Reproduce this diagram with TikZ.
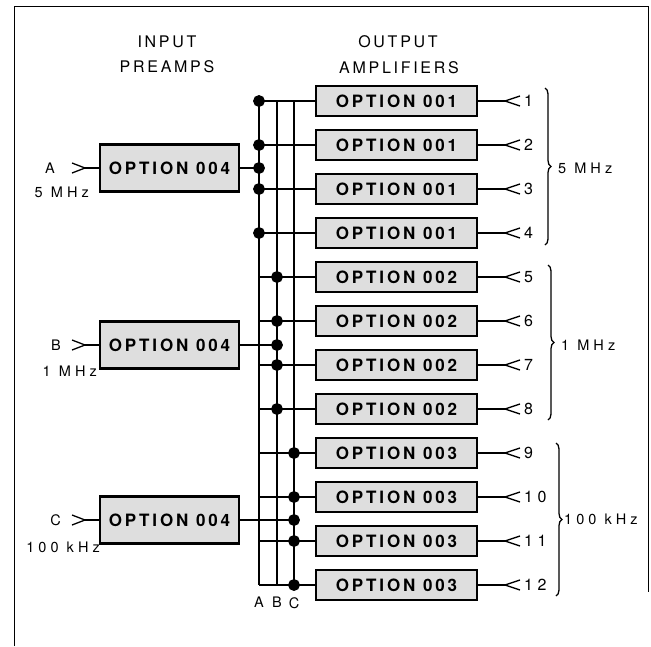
\documentclass[tikz,border=0pt]{standalone}
\usepackage{fontspec}
\setmainfont{TeX Gyre Heros}
\newfontfamily\spaced[LetterSpace=17]{TeX Gyre Heros}
\newfontfamily\widespaced[LetterSpace=28]{TeX Gyre Heros}
\usepackage{tikz}
\usetikzlibrary{positioning, calc, decorations.pathreplacing}
\definecolor{stipple}{HTML}{dedede}

\begin{document}
\begin{tikzpicture}[
    x=1pt, y=-1pt,
    node distance=14pt and 40pt,
    preamp/.style={rectangle, draw=black, fill=stipple, line width=2.2pt, outer sep=0pt, minimum width=139pt, minimum height=47pt, inner sep=0pt, font=\spaced\fontsize{17}{18}\selectfont\bfseries},
    ampbox/.style={rectangle, draw=black, fill=stipple, line width=2.2pt, outer sep=0pt, minimum width=161pt, minimum height=30pt, inner sep=0pt, font=\spaced\fontsize{17}{18}\selectfont\bfseries},
    heading/.style={inner sep=0pt, font=\spaced\fontsize{16}{18}\selectfont},
    tag/.style={inner sep=0pt, font=\widespaced\fontsize{14.5}{16}\selectfont},
    num/.style={inner sep=0pt, font=\widespaced\fontsize{16}{18}\selectfont},
    wire/.style={line width=1.8pt},
    jack/.style={line width=1.3pt},
    band/.style={decorate, decoration={brace, amplitude=6pt}, line width=1.3pt}
]
\useasboundingbox (0,0) rectangle (651,646);

% Frame
\draw[line width=1pt] (14,646) -- (14,6) -- (648,6) -- (648,592);

% Headings
\node[heading] (hin1) at (167,42) {INPUT};
\node[heading] (hin2) at (167,67) {PREAMPS};
\node[heading] (hout1) at (398,42) {OUTPUT};
\node[heading] (hout2) at (399,68) {AMPLIFIERS};

% Input preamps
\node[preamp] (inA) at (169.5,168) {OPTION 004};
\node[preamp, below=130pt of inA] (inB) {OPTION 004};
\node[preamp, below=128pt of inB] (inC) {OPTION 004};

% Output amplifiers
\node[ampbox] (out1) at (396.5,101) {OPTION 001};
\node[ampbox, below=of out1] (out2) {OPTION 001};
\node[ampbox, below=of out2] (out3) {OPTION 001};
\node[ampbox, below=of out3] (out4) {OPTION 001};
\node[ampbox, below=of out4] (out5) {OPTION 002};
\node[ampbox, below=of out5] (out6) {OPTION 002};
\node[ampbox, below=of out6] (out7) {OPTION 002};
\node[ampbox, below=of out7] (out8) {OPTION 002};
\node[ampbox, below=of out8] (out9) {OPTION 003};
\node[ampbox, below=of out9] (out10) {OPTION 003};
\node[ampbox, below=of out10] (out11) {OPTION 003};
\node[ampbox, below=of out11] (out12) {OPTION 003};

% Bus A, B, C
\coordinate (busA) at (259,0);
\coordinate (busB) at (277,0);
\coordinate (busC) at (294,0);
\draw[wire] (out1.west -| busA) -- (out12.west -| busA);
\draw[wire] (out1.west -| busB) -- (out12.west -| busB);
\draw[wire] (out1.west -| busC) -- (out12.west -| busC);
\node[tag, below=12pt of out12.west -| busA] (labbusA) {A};
\node[tag, below=12pt of out12.west -| busB] (labbusB) {B};
\node[tag, below=12pt of out12.west -| busC] (labbusC) {C};

% Inputs onto the bus
\filldraw[wire] (inA.east) -- (inA.east -| busA) circle (5pt);
\filldraw[wire] (inB.east) -- (inB.east -| busB) circle (5pt);
\filldraw[wire] (inC.east) -- (inC.east -| busC) circle (5pt);

% Taps to the amplifiers
\filldraw[wire] (out1.west) -- (out1.west -| busA) circle (5pt);
\filldraw[wire] (out2.west) -- (out2.west -| busA) circle (5pt);
\filldraw[wire] (out3.west) -- (out3.west -| busA) circle (5pt);
\filldraw[wire] (out4.west) -- (out4.west -| busA) circle (5pt);
\filldraw[wire] (out5.west) -- (out5.west -| busA) (out5.west -| busB) circle (5pt);
\filldraw[wire] (out6.west) -- (out6.west -| busA) (out6.west -| busB) circle (5pt);
\filldraw[wire] (out7.west) -- (out7.west -| busA) (out7.west -| busB) circle (5pt);
\filldraw[wire] (out8.west) -- (out8.west -| busA) (out8.west -| busB) circle (5pt);
\filldraw[wire] (out9.west) -- (out9.west -| busA) (out9.west -| busC) circle (5pt);
\filldraw[wire] (out10.west) -- (out10.west -| busA) (out10.west -| busC) circle (5pt);
\filldraw[wire] (out11.west) -- (out11.west -| busA) (out11.west -| busC) circle (5pt);
\filldraw[wire] (out12.west) -- (out12.west -| busA) (out12.west -| busC) circle (5pt);

% Input jacks
\coordinate[left=15pt of inA] (jackA);
\coordinate[left=15pt of inB] (jackB);
\coordinate[left=15pt of inC] (jackC);
\draw[wire] (inA) -- (jackA);
\draw[wire] (inB) -- (jackB);
\draw[wire] (inC) -- (jackC);
\draw[jack] ($(jackA)+(-13,-5)$) -- (jackA) -- ($(jackA)+(-13,5)$);
\draw[jack] ($(jackB)+(-13,-5)$) -- (jackB) -- ($(jackB)+(-13,5)$);
\draw[jack] ($(jackC)+(-13,-5)$) -- (jackC) -- ($(jackC)+(-13,5)$);
\node[tag, left=30pt of jackA] (labA) {A};
\node[tag, left=24pt of jackB] (labB) {B};
\node[tag, left=24pt of jackC] (labC) {C};
\node[tag, anchor=east] (fA) at (89,192) {5 MHz};
\node[tag, anchor=east] (fB) at (97,371) {1 MHz};
\node[tag, anchor=east] (fC) at (100,547) {100 kHz};

% Output jacks
\coordinate[right=28pt of out1] (j1);
\coordinate[right=28pt of out2] (j2);
\coordinate[right=28pt of out3] (j3);
\coordinate[right=28pt of out4] (j4);
\coordinate[right=28pt of out5] (j5);
\coordinate[right=28pt of out6] (j6);
\coordinate[right=28pt of out7] (j7);
\coordinate[right=28pt of out8] (j8);
\coordinate[right=28pt of out9] (j9);
\coordinate[right=28pt of out10] (j10);
\coordinate[right=28pt of out11] (j11);
\coordinate[right=28pt of out12] (j12);
\draw[wire] (out1) -- (j1) (out2) -- (j2) (out3) -- (j3) (out4) -- (j4);
\draw[wire] (out5) -- (j5) (out6) -- (j6) (out7) -- (j7) (out8) -- (j8);
\draw[wire] (out9) -- (j9) (out10) -- (j10) (out11) -- (j11) (out12) -- (j12);
\draw[jack] (j1) +(15,-5) -- (j1) -- +(15,5) (j2) +(15,-5) -- (j2) -- +(15,5);
\draw[jack] (j3) +(15,-5) -- (j3) -- +(15,5) (j4) +(15,-5) -- (j4) -- +(15,5);
\draw[jack] (j5) +(15,-5) -- (j5) -- +(15,5) (j6) +(15,-5) -- (j6) -- +(15,5);
\draw[jack] (j7) +(15,-5) -- (j7) -- +(15,5) (j8) +(15,-5) -- (j8) -- +(15,5);
\draw[jack] (j9) +(15,-5) -- (j9) -- +(15,5) (j10) +(15,-5) -- (j10) -- +(15,5);
\draw[jack] (j11) +(15,-5) -- (j11) -- +(15,5) (j12) +(15,-5) -- (j12) -- +(15,5);
\node[num, right=19pt of j1] (n1) {1};
\node[num, right=19pt of j2] (n2) {2};
\node[num, right=19pt of j3] (n3) {3};
\node[num, right=19pt of j4] (n4) {4};
\node[num, right=19pt of j5] (n5) {5};
\node[num, right=19pt of j6] (n6) {6};
\node[num, right=19pt of j7] (n7) {7};
\node[num, right=19pt of j8] (n8) {8};
\node[num, right=19pt of j9] (n9) {9};
\node[num, right=19pt of j10] (n10) {10};
\node[num, right=19pt of j11] (n11) {11};
\node[num, right=19pt of j12] (n12) {12};

% Frequency groups
\draw[band] (545,88) -- (545,245);
\draw[band] (548,265) -- (548,420);
\draw[band] (556,443) -- (556,596);
\node[tag, anchor=west] (band1) at (558,168) {5 MHz};
\node[tag, anchor=west] (band2) at (561,345) {1 MHz};
\node[tag, anchor=west] (band3) at (564,519) {100 kHz};

\end{tikzpicture}
\end{document}
